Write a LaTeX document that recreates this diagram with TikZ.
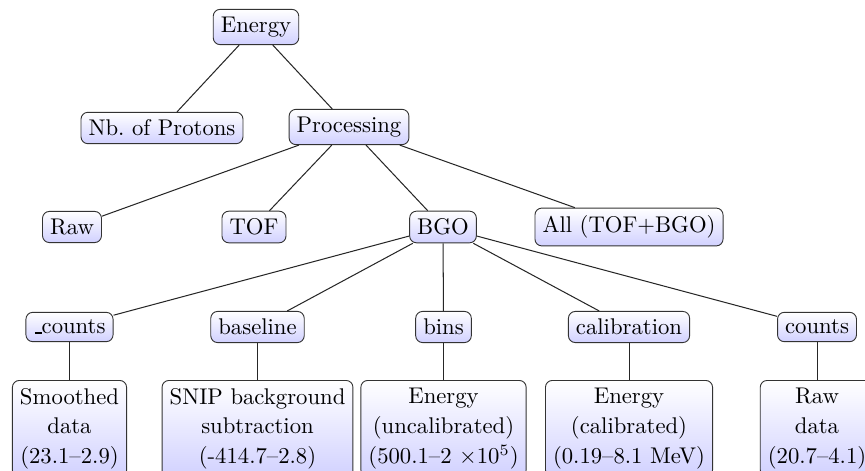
\documentclass[tikz,border=0pt]{standalone}
\usetikzlibrary{shadings}
\newcommand{\myus}{\leavevmode\kern.06em\vbox{\hrule width.3em height 0.6pt}}
\begin{document}
\begin{tikzpicture}[x=0.4405pt,y=-0.4405pt,
  box/.style={draw=black!80,rounded corners=3pt,top color=white,bottom color=blue!18,inner sep=3.33pt,font=\fontsize{10}{13.2}\selectfont},
  leaf/.style={box,anchor=north,align=center},
  conn/.style={draw=black!85,line width=0.45pt}]
\clip (0,0) rectangle (865,471);
\fill[white] (0,0) rectangle (865,471);
\node[box] (energy) at (256,27) {Energy};
\node[box] (protons) at (162,128) {Nb.\ of Protons};
\node[box] (proc) at (349,127) {Processing};
\node[box] (raw) at (72,227) {Raw};
\node[box] (tof) at (254,227) {TOF};
\node[box] (bgo) at (443,227) {BGO};
\node[box] (all) at (629,227) {All (TOF+BGO)};
\node[box] (scounts) at (69.5,327) {\myus counts};
\node[box] (baseline) at (257.5,327) {baseline};
\node[box] (bins) at (443.5,327) {bins};
\node[box] (calib) at (629,327) {calibration};
\node[box] (counts) at (817,327) {counts};
\node[leaf] (smooth) at (69.5,380) {Smoothed\\data\\(23.1--2.9)};
\node[leaf] (snip) at (257.5,380) {SNIP background\\subtraction\\(-414.7--2.8)};
\node[leaf] (uncal) at (443.5,380) {Energy\\(uncalibrated)\\(500.1--2 $\times10^5$)};
\node[leaf] (cal) at (629,380) {Energy\\(calibrated)\\(0.19--8.1 MeV)};
\node[leaf] (rawdata) at (817,380) {Raw\\data\\(20.7--4.1)};
\draw[conn] (energy) -- (protons);
\draw[conn] (energy) -- (proc);
\draw[conn] (proc) -- (raw);
\draw[conn] (proc) -- (tof);
\draw[conn] (proc) -- (bgo);
\draw[conn] (proc) -- (all);
\draw[conn] (bgo) -- (scounts);
\draw[conn] (bgo) -- (baseline);
\draw[conn] (bgo) -- (bins);
\draw[conn] (bgo) -- (calib);
\draw[conn] (bgo) -- (counts);
\draw[conn] (scounts) -- (smooth);
\draw[conn] (baseline) -- (snip);
\draw[conn] (bins) -- (uncal);
\draw[conn] (calib) -- (cal);
\draw[conn] (counts) -- (rawdata);
\end{tikzpicture}
\end{document}
